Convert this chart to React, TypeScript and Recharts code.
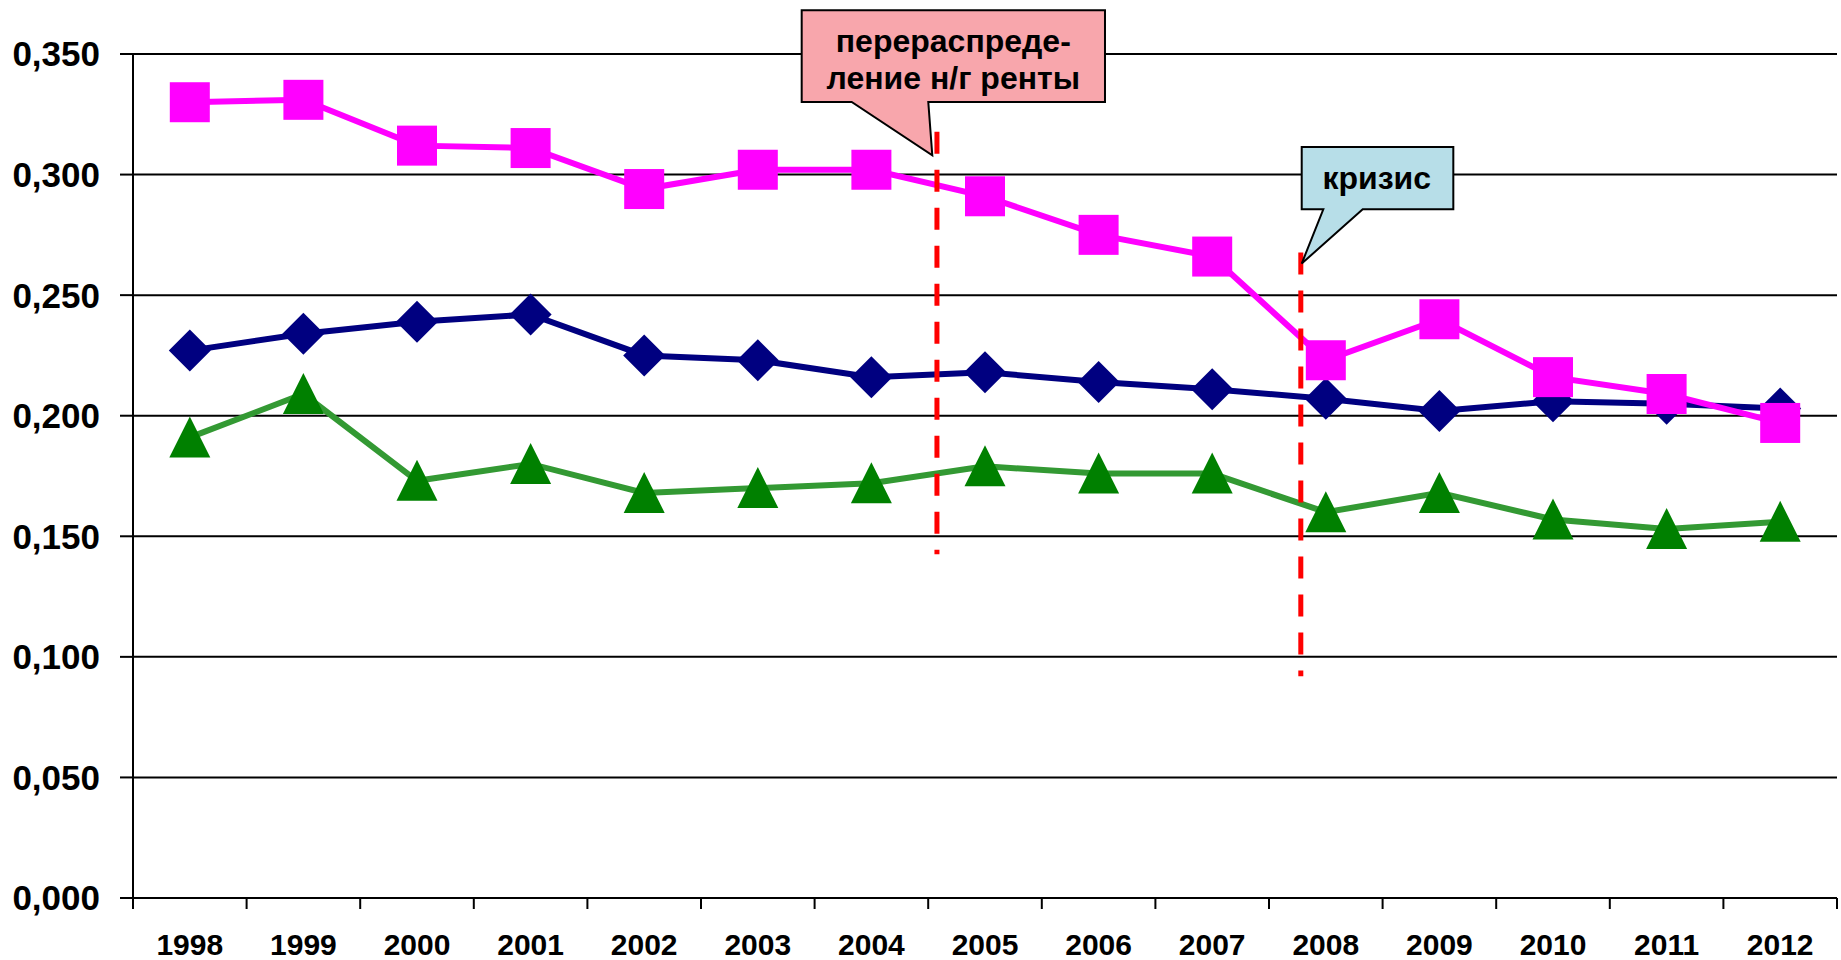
import React from "react";
import {
  LineChart,
  Line,
  XAxis,
  YAxis,
  CartesianGrid,
  ReferenceLine,
  ReferenceDot,
} from "recharts";

// Years along the bottom axis
const years = [
  "1998", "1999", "2000", "2001", "2002", "2003", "2004", "2005",
  "2006", "2007", "2008", "2009", "2010", "2011", "2012",
];

// Series
const squareSeries = [
  0.330, 0.331, 0.312, 0.311, 0.294, 0.302, 0.302, 0.291,
  0.275, 0.266, 0.223, 0.240, 0.216, 0.209, 0.197,
];
const diamondSeries = [
  0.227, 0.234, 0.239, 0.242, 0.225, 0.223, 0.216, 0.218,
  0.214, 0.211, 0.207, 0.202, 0.206, 0.205, 0.203,
];
const triangleSeries = [
  0.191, 0.209, 0.173, 0.180, 0.168, 0.170, 0.172, 0.179,
  0.176, 0.176, 0.160, 0.168, 0.157, 0.153, 0.156,
];

const yTicks = [0, 0.05, 0.1, 0.15, 0.2, 0.25, 0.3, 0.35];

// Dashed event lines (x in year index units, y in value units)
const eventLines = [
  { x: 6.577, top: 0.3178, bottom: 0.1426 },
  { x: 9.78, top: 0.2677, bottom: 0.092 },
];

// Callouts anchored at the tip of their pointer
const calloutTips = [
  { x: 6.536, y: 0.308 },
  { x: 9.788, y: 0.2631 },
];
const calloutTexts = [
  ["перераспреде-", "ление н/г ренты"],
  ["кризис"],
];

const FONT = "'Liberation Sans', Arial, Helvetica, sans-serif";

const rows = years.map((year, i) => ({
  i,
  year,
  square: squareSeries[i],
  diamond: diamondSeries[i],
  triangle: triangleSeries[i],
}));

// half-steps get a tick mark, whole steps get the year label
const xTicks = years.flatMap((_, i) => [i - 0.5, i]).concat(years.length - 0.5);

const XTick = (props: any) => {
  const { x, y, payload } = props;
  const v = payload.value;
  if (!Number.isInteger(v)) {
    return <line x1={x} x2={x} y1={y} y2={y + 11} stroke="#000" strokeWidth={2} />;
  }
  return (
    <text
      x={x}
      y={y + 57}
      textAnchor="middle"
      fontSize={30}
      fontWeight="bold"
      fontFamily={FONT}
      fill="#000"
    >
      {years[v]}
    </text>
  );
};

const renderSquare = (p: any) => {
  if (p.cy == null) return <g key={`sq-${p.index}`} />;
  return (
    <rect key={`sq-${p.index}`} x={p.cx - 20} y={p.cy - 20} width={40} height={40} fill="#FF00FF" />
  );
};

const renderDiamond = (p: any) => {
  if (p.cy == null) return <g key={`dm-${p.index}`} />;
  const { cx, cy } = p;
  return (
    <polygon
      key={`dm-${p.index}`}
      points={`${cx},${cy - 21} ${cx + 21},${cy} ${cx},${cy + 21} ${cx - 21},${cy}`}
      fill="#000080"
    />
  );
};

const renderTriangle = (p: any) => {
  if (p.cy == null) return <g key={`tr-${p.index}`} />;
  const { cx, cy } = p;
  return (
    <polygon
      key={`tr-${p.index}`}
      points={`${cx},${cy - 21} ${cx + 20.5},${cy + 20} ${cx - 20.5},${cy + 20}`}
      fill="#008000"
    />
  );
};

// speech-bubble shapes drawn relative to the pointer tip
const RedistributionCallout = (p: any) => {
  const { cx, cy } = p;
  const d = `M ${cx - 130.6} ${cy - 145} H ${cx + 172.7} V ${cy - 53.3} H ${cx - 4} L ${cx} ${cy} L ${cx - 80.6} ${cy - 53.3} H ${cx - 130.6} Z`;
  const [l1, l2] = calloutTexts[0];
  return (
    <g>
      <path d={d} fill="#F8A6AC" stroke="#000" strokeWidth={2} strokeLinejoin="miter" />
      <text x={cx + 21} y={cy - 103.3} textAnchor="middle" fontSize={32} fontWeight="bold" fontFamily={FONT} fill="#000">
        {l1}
      </text>
      <text x={cx + 21} y={cy - 66} textAnchor="middle" fontSize={32} fontWeight="bold" fontFamily={FONT} fill="#000">
        {l2}
      </text>
    </g>
  );
};

const CrisisCallout = (p: any) => {
  const { cx, cy } = p;
  const d = `M ${cx} ${cy - 116.6} H ${cx + 151.6} V ${cy - 54.3} H ${cx + 61} L ${cx} ${cy} L ${cx + 21.6} ${cy - 54.3} H ${cx} Z`;
  return (
    <g>
      <path d={d} fill="#B7DEE8" stroke="#000" strokeWidth={2} strokeLinejoin="miter" />
      <text x={cx + 75} y={cy - 75} textAnchor="middle" fontSize={32} fontWeight="bold" fontFamily={FONT} fill="#000">
        {calloutTexts[1][0]}
      </text>
    </g>
  );
};

export default function App() {
  return (
    <div style={{ position: "absolute", left: 0, top: 0, width: 1841, height: 960, background: "#fff" }}>
      <LineChart
        width={1841}
        height={960}
        data={rows}
        margin={{ top: 54, right: 4, bottom: 0, left: 0 }}
      >
        <CartesianGrid vertical={false} stroke="#000" strokeWidth={2} />
        <XAxis
          type="number"
          dataKey="i"
          domain={[-0.5, years.length - 0.5]}
          ticks={xTicks}
          interval={0}
          tick={<XTick />}
          tickLine={false}
          tickSize={0}
          tickMargin={0}
          height={62}
          axisLine={{ stroke: "#000", strokeWidth: 2 }}
        />
        <YAxis
          type="number"
          domain={[0, 0.35]}
          ticks={yTicks}
          interval={0}
          width={133}
          tickSize={13}
          tickMargin={20}
          tickFormatter={(v: number) => v.toFixed(3).replace(".", ",")}
          tick={{ fontSize: 35, fontWeight: "bold", fill: "#000", fontFamily: FONT }}
          tickLine={{ stroke: "#000", strokeWidth: 2 }}
          axisLine={{ stroke: "#000", strokeWidth: 2 }}
        />

        <Line
          dataKey="triangle"
          stroke="#339933"
          strokeWidth={6}
          dot={renderTriangle}
          activeDot={false}
          isAnimationActive={false}
        />
        <Line
          dataKey="diamond"
          stroke="#000080"
          strokeWidth={6}
          dot={renderDiamond}
          activeDot={false}
          isAnimationActive={false}
        />
        <Line
          dataKey="square"
          stroke="#FF00FF"
          strokeWidth={6}
          dot={renderSquare}
          activeDot={false}
          isAnimationActive={false}
        />

        {eventLines.map((e, k) => (
          <ReferenceLine
            key={`ev-${k}`}
            segment={[
              { x: e.x, y: e.top },
              { x: e.x, y: e.bottom },
            ]}
            stroke="#FF0000"
            strokeWidth={5}
            strokeDasharray="22 16"
            ifOverflow="visible"
          />
        ))}

        <ReferenceDot
          x={calloutTips[0].x}
          y={calloutTips[0].y}
          ifOverflow="visible"
          shape={(p: any) => <RedistributionCallout {...p} />}
        />
        <ReferenceDot
          x={calloutTips[1].x}
          y={calloutTips[1].y}
          ifOverflow="visible"
          shape={(p: any) => <CrisisCallout {...p} />}
        />
      </LineChart>
    </div>
  );
}
